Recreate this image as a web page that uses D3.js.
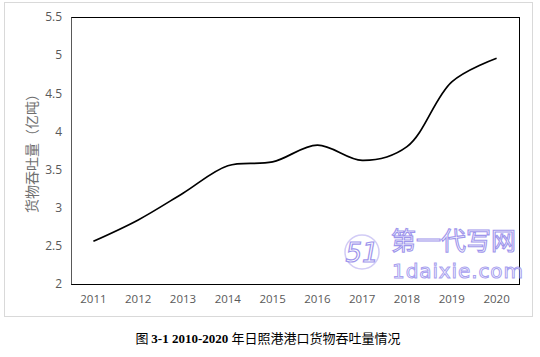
<!DOCTYPE html>
<html><head><meta charset="utf-8">
<script src="https://cdn.jsdelivr.net/npm/d3@7"></script>
<style>body{margin:0;background:#fff}svg{display:block}</style>
</head><body>
<script>
const years = ["2011","2012","2013","2014","2015","2016","2017","2018","2019","2020"];
const throughput = [2.56, 2.84, 3.19, 3.55, 3.60, 3.82, 3.62, 3.80, 4.65, 4.96];
const yTicks = [2, 2.5, 3, 3.5, 4, 4.5, 5, 5.5];
const yLabel = "货物吞吐量（亿吨）";
const captionParts = ["图 ", "3-1 2010-2020 ", "年日照港港口货物吞吐量情况"];

const W = 540, H = 357;
const svg = d3.select("body").append("svg").attr("width", W).attr("height", H);

// outer chart border
svg.append("rect").attr("x", 4.5).attr("y", 2.5).attr("width", 528).attr("height", 314)
  .attr("fill", "#fff").attr("stroke", "#d9d9d9").attr("stroke-width", 1);

const m = {l: 71, r: 519, t: 17, b: 284};
const x = d3.scaleBand().domain(years).range([m.l, m.r]);
const y = d3.scaleLinear().domain([2, 5.5]).range([m.b, m.t]);

// plot frame
svg.append("rect").attr("x", m.l + 0.5).attr("y", m.t + 0.5)
  .attr("width", m.r - m.l).attr("height", m.b - m.t)
  .attr("fill", "none").attr("stroke", "#000").attr("stroke-width", 1);

// y axis
const yAxis = svg.append("g").attr("transform", `translate(${m.l},0)`)
  .call(d3.axisLeft(y).tickValues(yTicks).tickSize(0).tickPadding(9).tickFormat(d => d3.format("")(d)));
yAxis.select(".domain").attr("stroke", "#595959");
yAxis.selectAll("text").attr("fill", "#595959").style("font-family", "'Open Sans', 'Liberation Sans', sans-serif").style("font-size", "12px");

// x axis
const xAxis = svg.append("g").attr("transform", `translate(0,${m.b})`)
  .call(d3.axisBottom(x).tickSize(0).tickPadding(11));
xAxis.select(".domain").attr("stroke", "#000");
xAxis.selectAll("text").attr("fill", "#595959").style("font-family", "'Open Sans', 'Liberation Sans', sans-serif").style("font-size", "11.5px");

// y label
svg.append("text").attr("transform", "translate(37,150) rotate(-90)")
  .attr("text-anchor", "middle").attr("fill", "#6f6f6f")
  .style("font-family", "'Noto Sans CJK SC', sans-serif").style("font-size", "14px")
  .text(yLabel);

// line
const line = d3.line().x((d, i) => x(years[i]) + x.bandwidth() / 2).y(d => y(d))
  .curve(d3.curveCatmullRom.alpha(0.5));
svg.append("path").datum(throughput).attr("d", line)
  .attr("fill", "none").attr("stroke", "#000").attr("stroke-width", 1.7);

// watermark
const wm = svg.append("g").attr("opacity", 0.75);
wm.append("circle").attr("cx", 362).attr("cy", 252).attr("r", 17)
  .attr("fill", "none").attr("stroke", "#c3bbf3").attr("stroke-width", 1.5);
wm.append("text").attr("x", 362).attr("y", 262).attr("text-anchor", "middle")
  .attr("fill", "#fff").attr("stroke", "#7e72e6").attr("stroke-width", 1.2)
  .style("font-family", "'DejaVu Sans', sans-serif").style("font-size", "26px").style("font-style", "italic")
  .text("51");
wm.append("text").attr("x", 391).attr("y", 250)
  .attr("fill", "#fff").attr("stroke", "#7e72e6").attr("stroke-width", 1.1)
  .style("font-family", "'Noto Sans CJK SC', sans-serif").style("font-size", "25px")
  .text("第一代写网");
wm.append("text").attr("x", 392).attr("y", 278)
  .attr("fill", "#fff").attr("stroke", "#8a80ea").attr("stroke-width", 1)
  .attr("textLength", 131)
  .style("font-family", "'DejaVu Sans', sans-serif").style("font-size", "20px")
  .text("1daixie.com");

// caption
const cap = svg.append("text").attr("x", 268).attr("y", 343).attr("text-anchor", "middle")
  .attr("fill", "#000").style("font-size", "13px");
cap.append("tspan").style("font-family", "'Noto Sans CJK SC', sans-serif").text(captionParts[0]);
cap.append("tspan").style("font-family", "'Liberation Serif', serif").style("font-weight", "bold").text(captionParts[1]);
cap.append("tspan").style("font-family", "'Noto Sans CJK SC', sans-serif").text(captionParts[2]);
</script>
</body></html>
